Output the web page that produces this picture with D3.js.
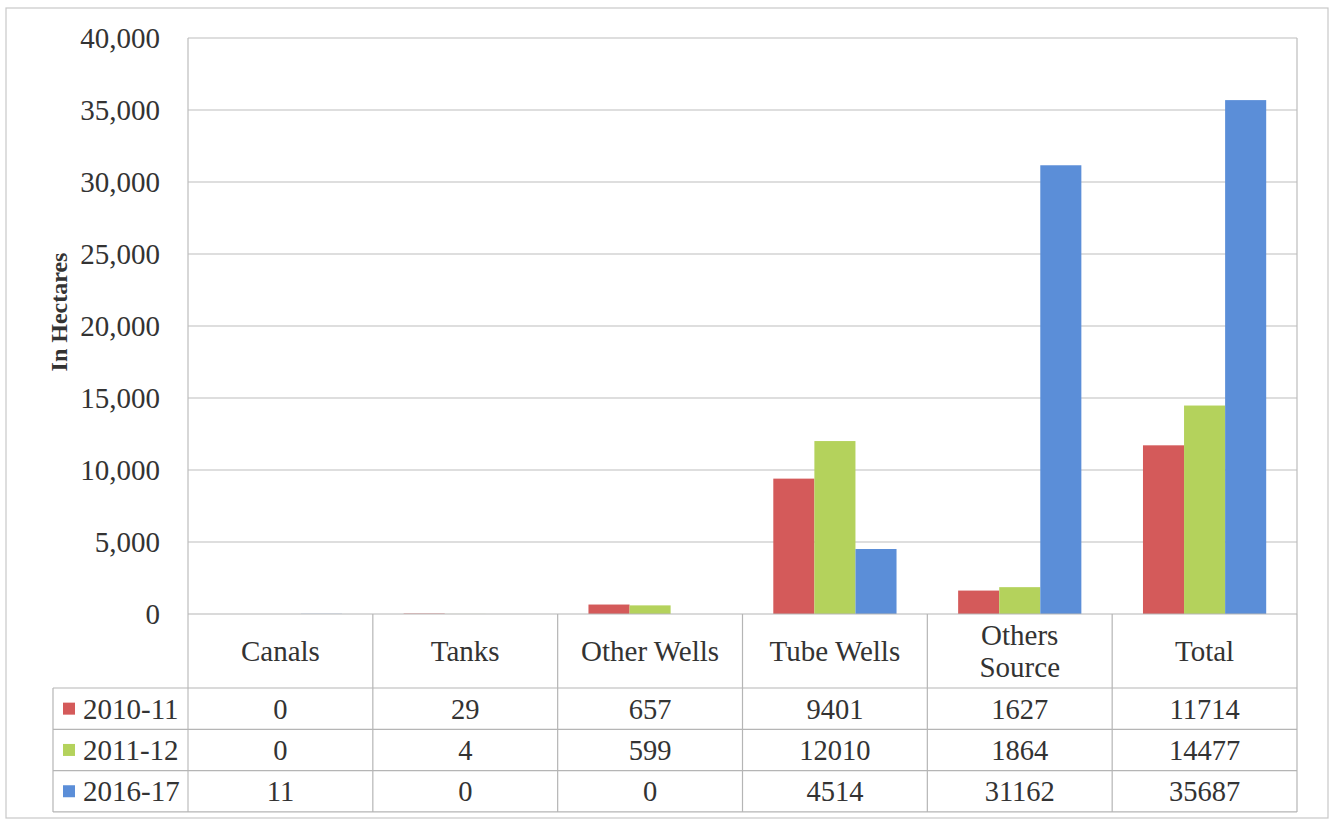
<!DOCTYPE html>
<html>
<head>
<meta charset="utf-8">
<script src="https://cdn.jsdelivr.net/npm/d3@7"></script>
<style>
  html, body { margin: 0; padding: 0; background: #fff; }
  svg { display: block; }
  text { font-family: "Liberation Serif", "Times New Roman", serif; fill: #333; }
</style>
</head>
<body>
<svg id="chart" width="1333" height="822"></svg>
<script>
const categories = ["Canals", "Tanks", "Other Wells", "Tube Wells", "Others Source", "Total"];
const categoryLines = [["Canals"], ["Tanks"], ["Other Wells"], ["Tube Wells"], ["Others", "Source"], ["Total"]];
const seriesNames = ["2010-11", "2011-12", "2016-17"];
const values2010 = [0, 29, 657, 9401, 1627, 11714];
const values2011 = [0, 4, 599, 12010, 1864, 14477];
const values2016 = [11, 0, 0, 4514, 31162, 35687];
const seriesValues = [values2010, values2011, values2016];
const seriesColors = ["#d45a5a", "#b4d25c", "#5b8ed8"];
const yTicks = [0, 5000, 10000, 15000, 20000, 25000, 30000, 35000, 40000];
const yTitle = "In Hectares";

const svg = d3.select("#chart");
const L = 188, R = 1297, T = 38, B = 614;
const headerBottom = 688, rowH = 41.3, legendLeft = 53;

// outer border
svg.append("rect").attr("x", 6).attr("y", 8).attr("width", 1322).attr("height", 810)
  .attr("fill", "none").attr("stroke", "#c8c8c8").attr("stroke-width", 1.2);

const x0 = d3.scaleBand().domain(categories).range([L, R]).padding(0);
const x1 = d3.scaleBand().domain(seriesNames).range([0, x0.bandwidth()]).paddingInner(0).paddingOuter(0.75);
const y = d3.scaleLinear().domain([0, 40000]).range([B, T]);

// gridlines
svg.append("g").selectAll("line").data(yTicks.filter(d => d > 0)).join("line")
  .attr("x1", L).attr("x2", R).attr("y1", d => y(d)).attr("y2", d => y(d))
  .attr("stroke", "#bdbdbd").attr("stroke-width", 1.2);

// plot borders
svg.append("line").attr("x1", L).attr("x2", L).attr("y1", T).attr("y2", 812)
  .attr("stroke", "#bdbdbd").attr("stroke-width", 1.2);
svg.append("line").attr("x1", R).attr("x2", R).attr("y1", T).attr("y2", B)
  .attr("stroke", "#bdbdbd").attr("stroke-width", 1.2);

// y axis
const yAxis = d3.axisLeft(y).tickValues(yTicks).tickSize(0).tickPadding(28)
  .tickFormat(d3.format(","));
const ya = svg.append("g").attr("transform", `translate(${L},0)`).call(yAxis);
ya.select(".domain").remove();
ya.selectAll("text").attr("font-size", 29).attr("fill", "#333")
  .attr("font-family", '"Liberation Serif", serif');

// y title
svg.append("text").attr("transform", `translate(67,312) rotate(-90)`)
  .attr("text-anchor", "middle").attr("font-size", 24).attr("font-weight", "bold")
  .attr("fill", "#222").text(yTitle);

// bars
const barData = [];
seriesNames.forEach((s, si) => categories.forEach((c, ci) => barData.push({ s, si, c, v: seriesValues[si][ci] })));
svg.append("g").selectAll("rect").data(barData).join("rect")
  .attr("x", d => x0(d.c) + x1(d.s))
  .attr("width", x1.bandwidth())
  .attr("y", d => y(d.v))
  .attr("height", d => B - y(d.v))
  .attr("fill", d => seriesColors[d.si]);

// table lines
const tableStroke = "#b5b5b5";
const tg = svg.append("g").attr("stroke", tableStroke).attr("stroke-width", 1.2);
tg.append("line").attr("x1", L).attr("x2", R).attr("y1", B).attr("y2", B);
for (let i = 0; i <= 3; i++) {
  const yy = headerBottom + i * rowH;
  tg.append("line").attr("x1", legendLeft).attr("x2", R).attr("y1", yy).attr("y2", yy);
}
tg.append("line").attr("x1", legendLeft).attr("x2", legendLeft).attr("y1", headerBottom).attr("y2", headerBottom + 3 * rowH);
categories.forEach(c => {
  const xx = x0(c) + x0.bandwidth();
  tg.append("line").attr("x1", xx).attr("x2", xx).attr("y1", B).attr("y2", headerBottom + 3 * rowH);
});

// category headers
categories.forEach((c, ci) => {
  const lines = categoryLines[ci];
  const cx = x0(c) + x0.bandwidth() / 2;
  const cy = (B + headerBottom) / 2;
  const lh = 32;
  lines.forEach((ln, li) => {
    svg.append("text").attr("x", cx).attr("y", cy + (li - (lines.length - 1) / 2) * lh)
      .attr("dy", "0.35em").attr("text-anchor", "middle").attr("font-size", 29).text(ln);
  });
});

// data rows
seriesNames.forEach((s, si) => {
  const cy = headerBottom + si * rowH + rowH / 2;
  svg.append("rect").attr("x", 63).attr("y", cy - 6).attr("width", 12).attr("height", 12)
    .attr("fill", seriesColors[si]);
  svg.append("text").attr("x", 83).attr("y", cy).attr("dy", "0.35em").attr("font-size", 29).text(s);
  categories.forEach((c, ci) => {
    svg.append("text").attr("x", x0(c) + x0.bandwidth() / 2).attr("y", cy).attr("dy", "0.35em")
      .attr("text-anchor", "middle").attr("font-size", 28.5).text(seriesValues[si][ci]);
  });
});
</script>
</body>
</html>
